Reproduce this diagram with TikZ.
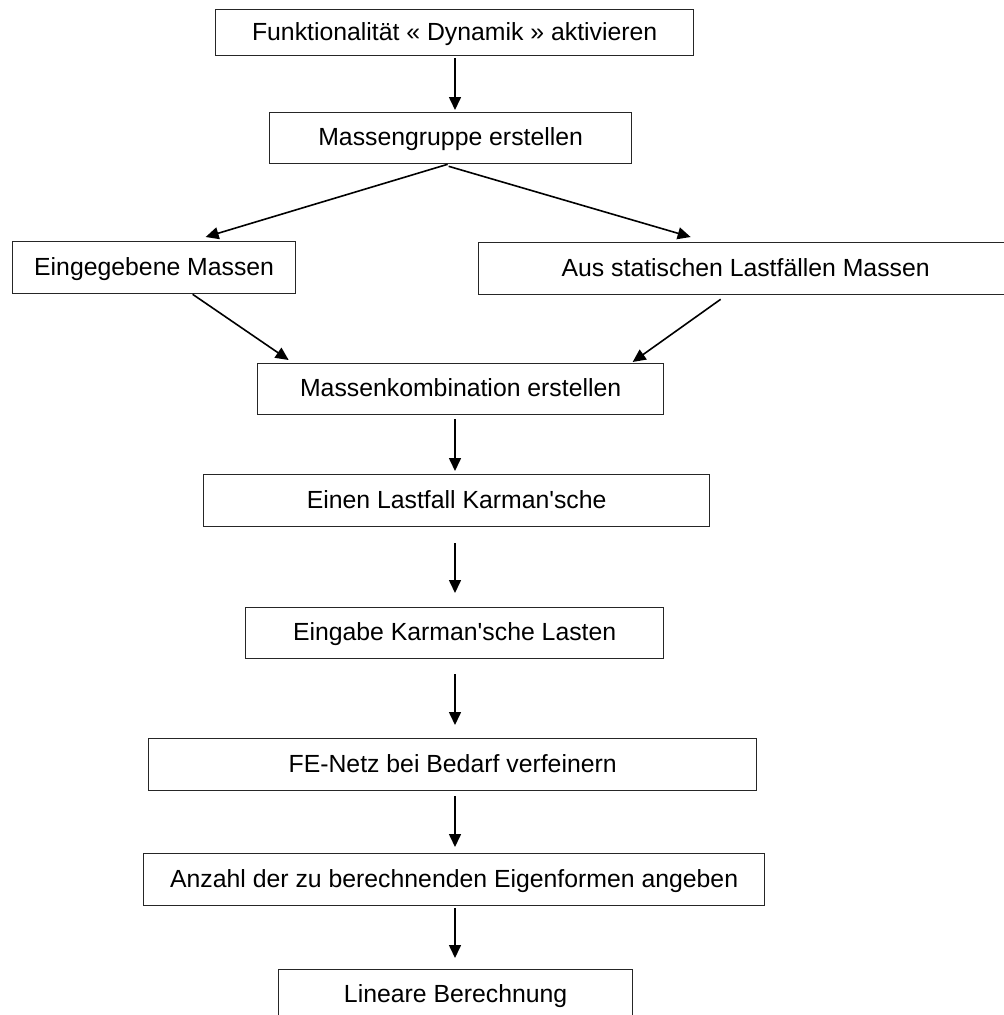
\documentclass[tikz,border=0pt]{standalone}
\usepackage{fontspec}
\setmainfont{Liberation Sans}[Ligatures=TeXOff]
\usetikzlibrary{arrows.meta}
\begin{document}
\begin{tikzpicture}[x=1pt,y=-1pt,
  stepbox/.style={draw=black!85, line width=1.3pt, rectangle, inner sep=0pt,
    anchor=north west, text height=18pt, text depth=3pt,
    font=\fontsize{24.8}{28}\selectfont},
  flow/.style={line width=1.6pt, -{Triangle[length=13pt,width=12pt]}}]
\clip (0,0) rectangle (1004,1015);
\fill[white] (0,0) rectangle (1004,1015);

% process steps (top-left corner, size)
\node[stepbox, minimum width=478pt, minimum height=46pt] (b1) at (215,9)   {Funktionalität « Dynamik » aktivieren};
\node[stepbox, minimum width=362pt, minimum height=51pt] (b2) at (269,112) {Massengruppe erstellen};
\node[stepbox, minimum width=283pt, minimum height=52pt] (b3) at (12,241)  {Eingegebene Massen};
\node[stepbox, minimum width=534pt, minimum height=52pt] (b4) at (478,242) {Aus statischen Lastfällen Massen};
\node[stepbox, minimum width=406pt, minimum height=51pt] (b5) at (257,363) {Massenkombination erstellen};
\node[stepbox, minimum width=506pt, minimum height=52pt] (b6) at (203,474) {Einen Lastfall Karman'sche};
\node[stepbox, minimum width=418pt, minimum height=51pt] (b7) at (245,607) {Eingabe Karman'sche Lasten};
\node[stepbox, minimum width=608pt, minimum height=52pt] (b8) at (148,738) {FE-Netz bei Bedarf verfeinern};
\node[stepbox, minimum width=621pt, minimum height=52pt] (b9) at (143,853) {Anzahl der zu berechnenden Eigenformen angeben};
\node[stepbox, minimum width=354pt, minimum height=51pt] (b10) at (278,969) {Lineare Berechnung};

% vertical axis of the main flow
\coordinate (axis) at (455,0);

% connectors
\draw[flow, shorten <=2pt, shorten >=2pt] (b1.south -| axis) -- (b2.north -| axis);
\draw[flow] ([xshift=-3pt]b2.south) -- ([xshift=51.5pt,yshift=4pt]b3.north);
\draw[flow] ([xshift=-2pt,yshift=-2pt]b2.south) -- ([xshift=-55pt,yshift=5pt]b4.north);
\draw[flow] ([xshift=38.5pt]b3.south) -- ([xshift=-172pt,yshift=3pt]b5.north);
\draw[flow] ([xshift=-25pt,yshift=-4pt]b4.south) -- ([xshift=172pt,yshift=1pt]b5.north);
\draw[flow, shorten <=4pt, shorten >=3pt] (b5.south -| axis) -- (b6.north -| axis);
\draw[flow, shorten <=16pt, shorten >=14pt] (b6.south -| axis) -- (b7.north -| axis);
\draw[flow, shorten <=15pt, shorten >=13pt] (b7.south -| axis) -- (b8.north -| axis);
\draw[flow, shorten <=5pt, shorten >=6pt] (b8.south -| axis) -- (b9.north -| axis);
\draw[flow, shorten <=2pt, shorten >=11pt] (b9.south -| axis) -- (b10.north -| axis);
\end{tikzpicture}
\end{document}
